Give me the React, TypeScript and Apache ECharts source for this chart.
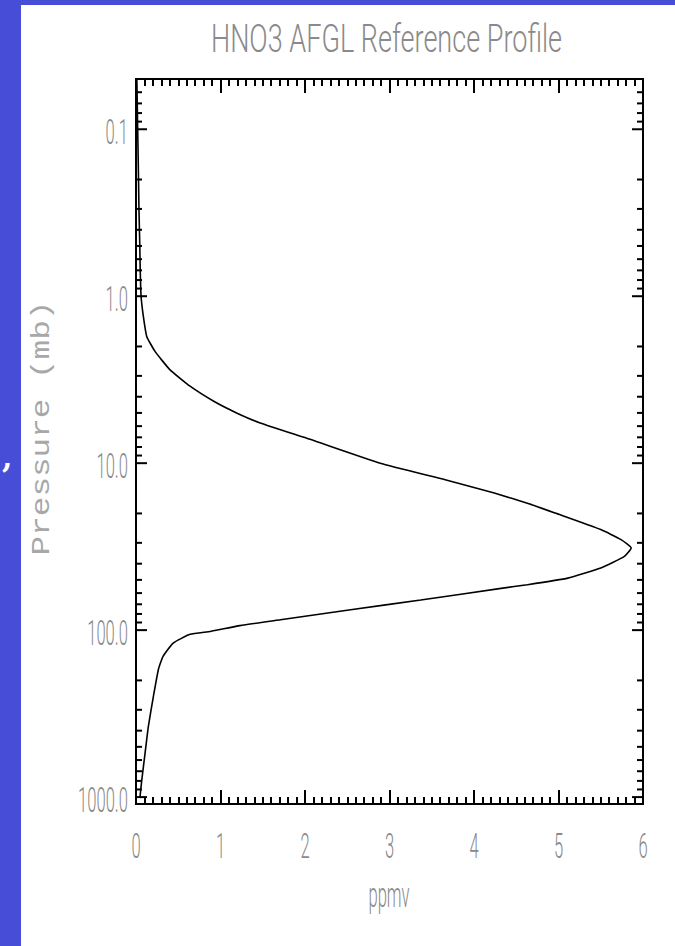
import React, { useEffect, useRef } from "react";
import * as echarts from "echarts";

// HNO3 mixing ratio (ppmv axis) against pressure (mb)
const pressure = [
  0.05, 0.07, 0.1, 0.2, 0.3, 0.5, 0.7, 1.0, 1.32, 1.74, 2.14, 2.75, 3.46, 4.26, 5.0, 5.74,
  7.2, 10, 12.6, 15.1, 17.5, 19.9, 25.0, 28.7, 32.2, 36.2, 42.4, 48.8, 53.5, 56.2, 66, 75.5, 86.7,
  94, 101.8, 106, 119.6, 143.5, 172, 251, 378, 547, 794, 1000, 1013,
];
const mixingRatio = [
  0.01, 0.015, 0.02, 0.03, 0.035, 0.045, 0.05, 0.06, 0.087, 0.127, 0.225, 0.4, 0.64, 0.92, 1.19, 1.47,
  2.06, 2.89, 3.67, 4.24, 4.65, 4.96, 5.5, 5.74, 5.86, 5.78, 5.5, 5.11, 4.63, 4.32, 3.37, 2.54, 1.71,
  1.23, 0.88, 0.64, 0.44, 0.32, 0.265, 0.205, 0.146, 0.107, 0.068, 0.047, 0.045,
];

const xTickValues = [0, 1, 2, 3, 4, 5, 6];
const xTickLabels = ["0", "1", "2", "3", "4", "5", "6"];
const yTickValues = [0.1, 1, 10, 100, 1000];
const yTickLabels = ["0.1", "1.0", "10.0", "100.0", "1000.0"];

const TITLE = "HNO3 AFGL Reference Profile";
const X_NAME = "ppmv";
const Y_NAME = "Pressure (mb)";

const P_MIN = 0.05;
const P_MAX = 1100;
const X_MIN = 0;
const X_MAX = 6;

const LABEL_FONT_FAMILY = "Roboto";
const LABEL_WEIGHT = 300;
const LABEL_SIZE = 36;
const LABEL_COLOR = "#8a8a8a";
const BLUE = "#474dd6";

function measure(text: string, font: string): number {
  const ctx = document.createElement("canvas").getContext("2d");
  if (!ctx) return text.length * 10;
  ctx.font = font;
  return ctx.measureText(text).width;
}

export default function App() {
  const ref = useRef<HTMLDivElement>(null);

  useEffect(() => {
    if (!ref.current) return;
    const chart = echarts.init(ref.current, null, { renderer: "svg" });

    const labelFont = `${LABEL_WEIGHT} ${LABEL_SIZE}px ${LABEL_FONT_FAMILY}`;
    const labelScale = 50 / measure("1000.0", labelFont);
    const titleFont = `${LABEL_WEIGHT} 38px ${LABEL_FONT_FAMILY}`;
    const titleScale = 351 / measure(TITLE, titleFont);
    const yNameFont = `26px "Liberation Mono"`;
    const yNameScale = 255 / measure(Y_NAME, yNameFont);

    // log-axis tick positions: 1..9 × 10^k inside the pressure range
    const yTicks: number[][] = [];
    for (let k = -2; k <= 3; k++) {
      for (let m = 1; m <= 9; m++) {
        const p = m * Math.pow(10, k);
        if (p >= P_MIN && p <= P_MAX) yTicks.push([X_MIN, p, m === 1 ? 1 : 0]);
      }
    }

    const labelStyle = {
      fill: LABEL_COLOR,
      fontFamily: LABEL_FONT_FAMILY,
      fontWeight: LABEL_WEIGHT,
      fontSize: LABEL_SIZE,
    };

    const tickAxisCommon = {
      type: "value",
      min: X_MIN,
      max: X_MAX,
      interval: 1,
      axisLine: { show: false },
      splitLine: { show: false },
      axisLabel: { show: false },
      axisTick: { show: true, inside: true, length: 14, lineStyle: { color: "#000", width: 2 } },
      minorTick: { show: true, splitNumber: 10, length: 7, lineStyle: { color: "#000", width: 2 } },
    };

    const option: any = {
      animation: false,
      backgroundColor: "#ffffff",
      grid: {
        left: 136,
        top: 79,
        width: 507,
        height: 725,
        show: true,
        borderColor: "#000",
        borderWidth: 2,
        backgroundColor: "transparent",
      },
      xAxis: [
        { ...tickAxisCommon, position: "bottom" },
        { ...tickAxisCommon, position: "top" },
      ],
      yAxis: {
        type: "log",
        logBase: 10,
        min: P_MIN,
        max: P_MAX,
        inverse: true,
        axisLine: { show: false },
        axisTick: { show: false },
        axisLabel: { show: false },
        splitLine: { show: false },
      },
      series: [
        {
          type: "line",
          name: "HNO3",
          data: pressure.map((p, i) => [mixingRatio[i], p]),
          showSymbol: false,
          smooth: 0.15,
          lineStyle: { color: "#000", width: 1.6 },
          z: 5,
        },
        {
          type: "custom",
          name: "pressureTicks",
          silent: true,
          data: yTicks,
          encode: { x: 0, y: 1 },
          renderItem: (params: any, api: any) => {
            const p = api.value(1);
            const major = api.value(2) === 1;
            const len = major ? 11 : 6;
            const l = api.coord([X_MIN, p]);
            const r = api.coord([X_MAX, p]);
            const style = { stroke: "#000", lineWidth: 2 };
            return {
              type: "group",
              children: [
                { type: "line", shape: { x1: l[0], y1: l[1], x2: l[0] + len, y2: l[1] }, style },
                { type: "line", shape: { x1: r[0], y1: r[1], x2: r[0] - len, y2: r[1] }, style },
              ],
            };
          },
        },
        {
          type: "custom",
          name: "pressureLabels",
          silent: true,
          data: yTickValues.map((p) => [X_MIN, p]),
          encode: { x: 0, y: 1 },
          renderItem: (params: any, api: any) => {
            const pt = api.coord([X_MIN, api.value(1)]);
            return {
              type: "text",
              x: pt[0] - 8,
              y: pt[1] + 3,
              scaleX: labelScale,
              style: {
                ...labelStyle,
                text: yTickLabels[params.dataIndex],
                align: "right",
                verticalAlign: "middle",
              },
            };
          },
        },
        {
          type: "custom",
          name: "ppmvLabels",
          silent: true,
          data: xTickValues.map((v) => [v, P_MAX]),
          encode: { x: 0, y: 1 },
          renderItem: (params: any, api: any) => {
            const pt = api.coord([api.value(0), P_MAX]);
            return {
              type: "text",
              x: pt[0],
              y: pt[1] + 42,
              scaleX: labelScale,
              style: {
                ...labelStyle,
                text: xTickLabels[params.dataIndex],
                align: "center",
                verticalAlign: "middle",
              },
            };
          },
        },
      ],
      graphic: [
        { type: "rect", left: 0, top: 0, shape: { x: 0, y: 0, width: 21, height: 946 }, style: { fill: BLUE }, silent: true },
        { type: "rect", left: 0, top: 0, shape: { x: 0, y: 0, width: 675, height: 5 }, style: { fill: BLUE }, silent: true },
        {
          type: "text",
          x: 2,
          y: 442,
          style: { text: ",", fill: "#ffffff", fontSize: 30, fontWeight: "bold", fontFamily: "DejaVu Serif" },
          silent: true,
        },
        {
          type: "text",
          x: 386.5,
          y: 39,
          scaleX: titleScale,
          style: {
            text: TITLE,
            fill: LABEL_COLOR,
            fontFamily: LABEL_FONT_FAMILY,
            fontWeight: LABEL_WEIGHT,
            fontSize: 38,
            align: "center",
            verticalAlign: "middle",
          },
          silent: true,
        },
        {
          type: "text",
          x: 389,
          y: 895,
          scaleX: labelScale,
          style: { ...labelStyle, text: X_NAME, align: "center", verticalAlign: "middle" },
          silent: true,
        },
        {
          type: "text",
          x: 42,
          y: 428,
          rotation: Math.PI / 2,
          scaleX: yNameScale,
          style: {
            text: Y_NAME,
            fill: "#a8a8a8",
            fontFamily: "Liberation Mono",
            fontSize: 26,
            align: "center",
            verticalAlign: "middle",
          },
          silent: true,
        },
      ],
    };

    chart.setOption(option);
    return () => chart.dispose();
  }, []);

  return (
    <div
      ref={ref}
      style={{ position: "fixed", left: 0, top: 0, width: 675, height: 946, background: "#ffffff" }}
    />
  );
}
